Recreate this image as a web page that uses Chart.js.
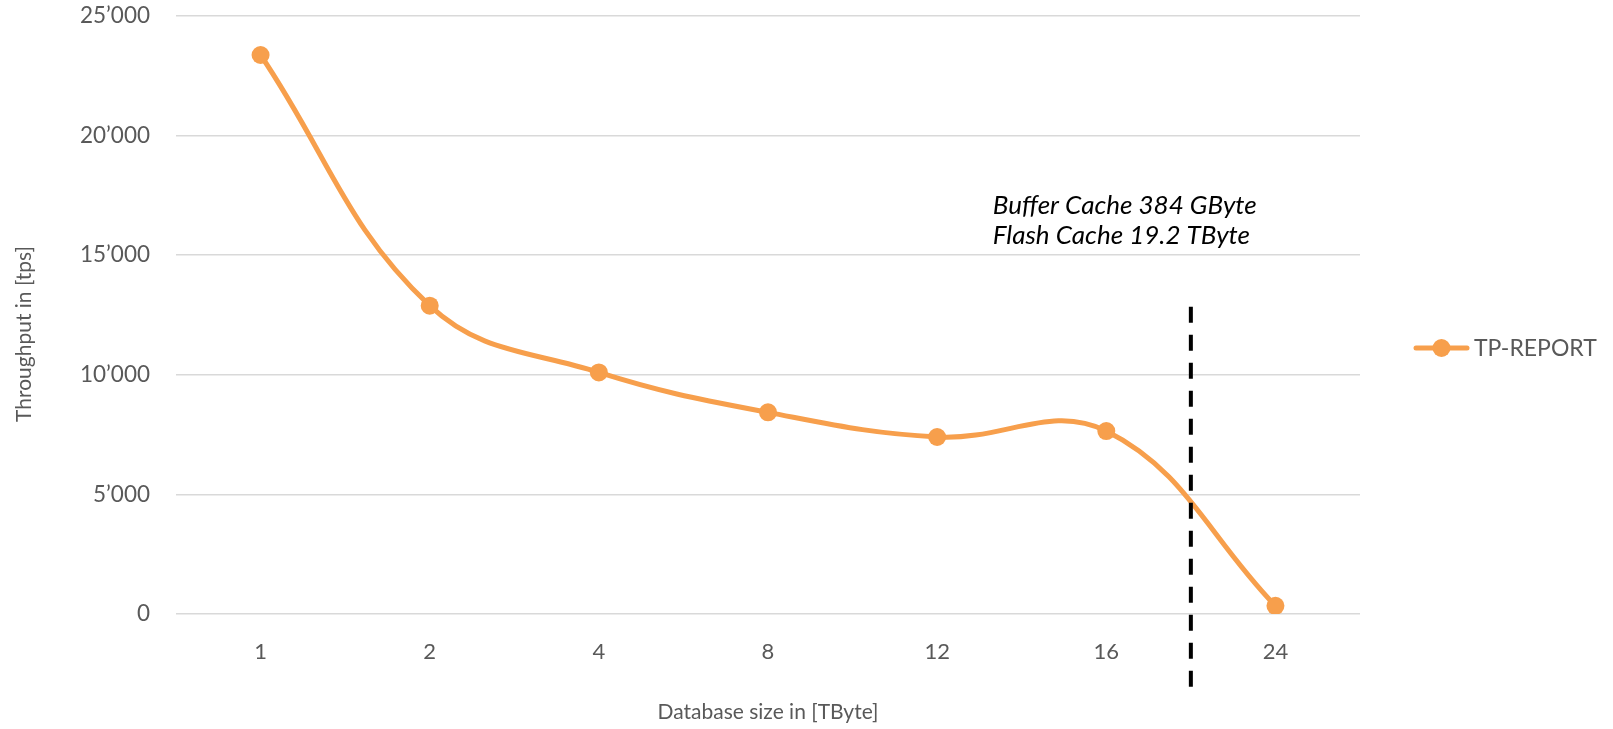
<!DOCTYPE html>
<html>
<head>
<meta charset="utf-8">
<script src="https://cdn.jsdelivr.net/npm/chart.js@4/dist/chart.umd.min.js"></script>
<style>
  html, body { margin: 0; padding: 0; background: #ffffff; }
  #wrap { width: 1613px; height: 729px; }
</style>
</head>
<body>
<div id="wrap"><canvas id="c" width="1613" height="729"></canvas></div>
<script>
// ---- data ----
const categories = ['1', '2', '4', '8', '12', '16', '24'];
const seriesName = 'TP-REPORT';
const throughput = [23370, 12890, 10100, 8430, 7400, 7650, 340];
const yTicks = [0, 5000, 10000, 15000, 20000, 25000];
const xTitle = 'Database size in [TByte]';
const yTitle = 'Throughput in [tps]';
const annotationLines = ['Buffer Cache 384 GByte', 'Flash Cache 19.2 TByte'];
const markerPosition = 5.5;      // between "16" and "24"
const markerTopValue = 12850;

const ORANGE = '#F79F4C';
const TEXT = '#595959';
const FONT = 'Lato';

function fmt(v) {
  return String(v).replace(/\B(?=(\d{3})+(?!\d))/g, '\u2019');
}

const markerPlugin = {
  id: 'marker',
  afterDatasetsDraw(chart) {
    const { ctx, scales: { x, y }, chartArea } = chart;
    const px = x.getPixelForValue(markerPosition);
    ctx.save();
    ctx.strokeStyle = '#000';
    ctx.lineWidth = 4;
    ctx.setLineDash([16, 12]);
    ctx.beginPath();
    ctx.moveTo(px, y.getPixelForValue(markerTopValue));
    ctx.lineTo(px, chartArea.bottom + 73);
    ctx.stroke();
    ctx.setLineDash([]);
    ctx.fillStyle = '#000';
    ctx.font = 'italic 26px ' + FONT;
    ctx.textAlign = 'left';
    ctx.textBaseline = 'alphabetic';
    const tx = px - 198;
    ctx.fillText(annotationLines[0], tx, y.getPixelForValue(16740));
    ctx.fillText(annotationLines[1], tx, y.getPixelForValue(15450));
    ctx.restore();
  },
  afterDraw(chart) {
    const { ctx, chartArea } = chart;
    const ds = chart.data.datasets[0];
    // y-axis title, centred lower than the plot area like the original
    ctx.save();
    ctx.fillStyle = TEXT;
    ctx.font = '21px ' + FONT;
    ctx.textAlign = 'center';
    ctx.textBaseline = 'middle';
    ctx.translate(24, (chartArea.top + chartArea.bottom) / 2 + 19);
    ctx.rotate(-Math.PI / 2);
    ctx.fillText(yTitle, 0, 0);
    ctx.restore();
    // legend: line + dot + label, placed right of the plot area
    const x0 = chartArea.right + 54;
    const yc = 348;
    ctx.save();
    ctx.strokeStyle = ds.borderColor;
    ctx.lineWidth = 5;
    ctx.lineCap = 'round';
    ctx.beginPath();
    ctx.moveTo(x0 + 2, yc);
    ctx.lineTo(x0 + 53, yc);
    ctx.stroke();
    ctx.fillStyle = ds.borderColor;
    ctx.beginPath();
    ctx.arc(x0 + 27.5, yc, 9, 0, Math.PI * 2);
    ctx.fill();
    ctx.fillStyle = TEXT;
    ctx.font = '23px ' + FONT;
    ctx.textAlign = 'left';
    ctx.textBaseline = 'middle';
    ctx.fillText(ds.label, x0 + 60, yc + 1);
    ctx.restore();
  }
};

Chart.defaults.font.family = FONT;
Chart.defaults.color = TEXT;

new Chart(document.getElementById('c'), {
  type: 'line',
  data: {
    labels: categories,
    datasets: [{
      label: seriesName,
      data: throughput,
      borderColor: ORANGE,
      backgroundColor: ORANGE,
      borderWidth: 5,
      pointRadius: 9,
      pointBackgroundColor: ORANGE,
      pointBorderWidth: 0,
      tension: 0.4,
      fill: false
    }]
  },
  options: {
    responsive: false,
    animation: false,
    devicePixelRatio: 1,
    layout: { padding: { top: 16, left: 0, right: 253, bottom: 0 } },
    plugins: {
      legend: { display: false },
      tooltip: { enabled: false }
    },
    scales: {
      x: {
        offset: true,
        grid: { display: false, drawTicks: false },
        border: { display: false },
        ticks: { padding: 25, color: TEXT, font: { size: 22 } },
        title: { display: true, text: xTitle, color: TEXT, font: { size: 21 }, padding: { top: 4, bottom: 4 } },
        afterFit(s) { s.height = 115; }
      },
      y: {
        min: 0, max: 25000,
        afterBuildTicks(s) { s.ticks = yTicks.map(v => ({ value: v })); },
        grid: { color: '#D9D9D9', lineWidth: 1.5, drawTicks: true, tickLength: 26, tickColor: 'rgba(0,0,0,0)' },
        border: { display: false },
        ticks: { padding: 0, color: TEXT, font: { size: 22.5 }, callback: v => fmt(v) },
        title: { display: false },
        afterFit(s) { s.width = 176; }
      }
    }
  },
  plugins: [markerPlugin]
});
</script>
</body>
</html>
